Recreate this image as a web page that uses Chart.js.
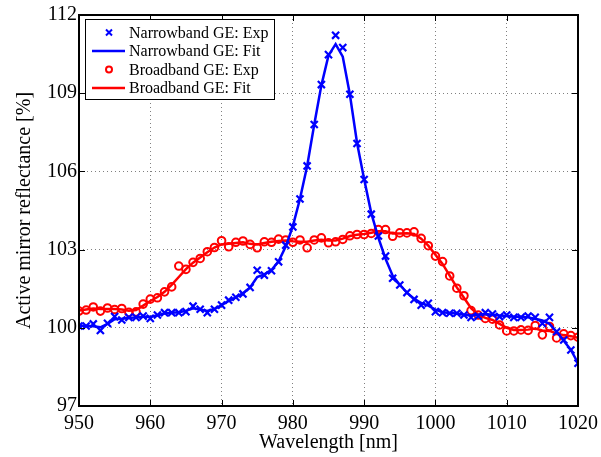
<!DOCTYPE html>
<html>
<head>
<meta charset="utf-8">
<script src="https://cdn.jsdelivr.net/npm/chart.js@4.4.1/dist/chart.umd.min.js"></script>
<style>
  html, body { margin: 0; padding: 0; background: #fff; }
  canvas { display: block; }
</style>
</head>
<body>
<canvas id="myChart" width="601" height="457"></canvas>
<script>
// wavelength grid (nm), 1 nm steps
const wavelength = [
  950, 951, 952, 953, 954, 955, 956, 957, 958, 959,
  960, 961, 962, 963, 964, 965, 966, 967, 968, 969,
  970, 971, 972, 973, 974, 975, 976, 977, 978, 979,
  980, 981, 982, 983, 984, 985, 986, 987, 988, 989,
  990, 991, 992, 993, 994, 995, 996, 997, 998, 999,
  1000, 1001, 1002, 1003, 1004, 1005, 1006, 1007, 1008, 1009,
  1010, 1011, 1012, 1013, 1014, 1015, 1016, 1017, 1018, 1019, 1020
];

const narrowExp = [
  100.07, 100.07, 100.15, 99.90, 100.17, 100.43, 100.30, 100.40, 100.40, 100.45,
  100.36, 100.49, 100.58, 100.58, 100.58, 100.62, 100.83, 100.71, 100.58, 100.71,
  100.87, 101.06, 101.17, 101.30, 101.55, 102.21, 102.02, 102.19, 102.53, 103.17,
  103.87, 104.94, 106.21, 107.80, 109.33, 110.48, 111.22, 110.75, 108.96, 107.07,
  105.69, 104.36, 103.52, 102.75, 101.90, 101.64, 101.35, 101.09, 100.87, 100.94,
  100.62, 100.58, 100.56, 100.56, 100.49, 100.40, 100.45, 100.58, 100.53, 100.43,
  100.49, 100.40, 100.40, 100.45, 100.40, 100.17, 100.40, 99.85, 99.53, 99.15, 98.64
];

const narrowFit = [
  100.08, 100.08, 100.06, 100.02, 100.15, 100.33, 100.35, 100.38, 100.40, 100.42,
  100.42, 100.48, 100.55, 100.58, 100.60, 100.65, 100.75, 100.70, 100.65, 100.72,
  100.87, 101.03, 101.17, 101.33, 101.55, 101.95, 102.05, 102.22, 102.55, 103.12,
  103.90, 104.95, 106.20, 107.80, 109.30, 110.45, 110.88, 110.40, 108.95, 107.10,
  105.70, 104.40, 103.45, 102.65, 102.00, 101.65, 101.35, 101.12, 100.95, 100.85,
  100.70, 100.60, 100.57, 100.55, 100.50, 100.47, 100.50, 100.53, 100.50, 100.47,
  100.45, 100.42, 100.42, 100.40, 100.35, 100.28, 100.15, 99.85, 99.50, 99.15, 98.65
];

const broadExp = [
  100.64, 100.68, 100.80, 100.64, 100.76, 100.70, 100.74, 100.59, 100.61, 100.91,
  101.10, 101.15, 101.38, 101.57, 102.37, 102.24, 102.51, 102.66, 102.92, 103.08,
  103.34, 103.11, 103.28, 103.33, 103.20, 103.07, 103.30, 103.28, 103.40, 103.37,
  103.28, 103.37, 103.07, 103.37, 103.45, 103.26, 103.30, 103.39, 103.53, 103.58,
  103.58, 103.62, 103.77, 103.77, 103.51, 103.64, 103.64, 103.68, 103.43, 103.15,
  102.75, 102.54, 101.99, 101.52, 101.23, 100.66, 100.49, 100.36, 100.33, 100.11,
  99.88, 99.88, 99.92, 99.90, 100.09, 99.73, 100.05, 99.61, 99.77, 99.70, 99.64
];

const broadFit = [
  100.66, 100.70, 100.74, 100.72, 100.72, 100.72, 100.70, 100.65, 100.68, 100.85,
  101.03, 101.18, 101.38, 101.65, 101.95, 102.25, 102.50, 102.70, 102.90, 103.08,
  103.20, 103.22, 103.25, 103.28, 103.22, 103.20, 103.25, 103.30, 103.33, 103.35,
  103.32, 103.30, 103.30, 103.35, 103.38, 103.35, 103.35, 103.42, 103.52, 103.57,
  103.60, 103.65, 103.70, 103.70, 103.62, 103.62, 103.63, 103.60, 103.42, 103.15,
  102.80, 102.45, 102.00, 101.55, 101.15, 100.75, 100.50, 100.38, 100.30, 100.15,
  100.00, 99.92, 99.92, 99.93, 99.97, 99.90, 99.88, 99.78, 99.72, 99.68, 99.62
];

const xTicks = [950, 960, 970, 980, 990, 1000, 1010, 1020];
const yTicks = [97, 100, 103, 106, 109, 112];

const BLUE = "#0000ff";
const RED = "#ff0000";
const SERIF = '"Liberation Serif", "DejaVu Serif", serif';

const toPoints = (ys) => ys.map((v, i) => ({ x: wavelength[i], y: v }));

// frame, inward ticks on all four sides, and the boxed legend
const framePlugin = {
  id: "frame",
  afterDatasetsDraw(chart) {
    const { ctx, chartArea, scales } = chart;
    const { left, right, top, bottom } = chartArea;
    ctx.save();
    ctx.strokeStyle = "#000";
    ctx.lineWidth = 1;
    ctx.beginPath();
    xTicks.forEach((v) => {
      const px = Math.round(scales.x.getPixelForValue(v)) + 0.5;
      ctx.moveTo(px, bottom); ctx.lineTo(px, bottom - 6);
      ctx.moveTo(px, top); ctx.lineTo(px, top + 6);
    });
    yTicks.forEach((v) => {
      const py = Math.round(scales.y.getPixelForValue(v)) + 0.5;
      ctx.moveTo(left, py); ctx.lineTo(left + 6, py);
      ctx.moveTo(right, py); ctx.lineTo(right - 6, py);
    });
    ctx.stroke();
    ctx.lineWidth = 2;
    ctx.strokeRect(left, top, right - left, bottom - top);

    // legend
    const lx = 85, ly = 19, lw = 189, lh = 80;
    ctx.fillStyle = "#fff";
    ctx.fillRect(lx, ly, lw, lh);
    ctx.lineWidth = 1;
    ctx.strokeStyle = "#000";
    ctx.strokeRect(lx + 0.5, ly + 0.5, lw, lh);
    ctx.font = "16px " + SERIF;
    ctx.textBaseline = "middle";
    ctx.textAlign = "left";
    chart.data.datasets.forEach((ds, i) => {
      const cy = ly + 13.5 + i * 18.5;
      ctx.strokeStyle = ds.borderColor;
      if (ds.showLine === false) {
        ctx.lineWidth = 2;
        ctx.beginPath();
        if (ds.pointStyle === "crossRot") {
          const r = 3;
          ctx.moveTo(109 - r, cy - r); ctx.lineTo(109 + r, cy + r);
          ctx.moveTo(109 + r, cy - r); ctx.lineTo(109 - r, cy + r);
        } else {
          ctx.arc(109, cy, 3, 0, Math.PI * 2);
        }
        ctx.stroke();
      } else {
        ctx.lineWidth = 2.5;
        ctx.beginPath();
        ctx.moveTo(92, cy); ctx.lineTo(125, cy);
        ctx.stroke();
      }
      ctx.fillStyle = "#000";
      ctx.fillText(ds.label, 129, cy + 1);
    });
    ctx.restore();
  },
};

const ctx = document.getElementById("myChart").getContext("2d");
const myChart = new Chart(ctx, {
  type: "scatter",
  data: {
    datasets: [
      {
        label: "Narrowband GE: Exp",
        data: toPoints(narrowExp),
        showLine: false,
        pointStyle: "crossRot",
        pointRadius: 5,
        pointBorderWidth: 2.2,
        borderColor: BLUE,
        backgroundColor: BLUE,
      },
      {
        label: "Narrowband GE: Fit",
        data: toPoints(narrowFit),
        showLine: true,
        pointRadius: 0,
        borderWidth: 2.5,
        borderColor: BLUE,
        backgroundColor: BLUE,
      },
      {
        label: "Broadband GE: Exp",
        data: toPoints(broadExp),
        showLine: false,
        pointStyle: "circle",
        pointRadius: 3.8,
        pointBorderWidth: 2,
        borderColor: RED,
        backgroundColor: "rgba(0,0,0,0)",
      },
      {
        label: "Broadband GE: Fit",
        data: toPoints(broadFit),
        showLine: true,
        pointRadius: 0,
        borderWidth: 2.5,
        borderColor: RED,
        backgroundColor: RED,
      },
    ],
  },
  options: {
    responsive: false,
    devicePixelRatio: 1,
    animation: false,
    layout: { padding: { left: 0, right: 23, top: 15, bottom: 0 } },
    plugins: {
      legend: { display: false },
      tooltip: { enabled: false },
    },
    scales: {
      x: {
        type: "linear",
        min: 950,
        max: 1020,
        afterFit: (scale) => {
          scale.height = 51;
          scale.paddingLeft = 0;
          scale.paddingRight = 0;
        },
        afterBuildTicks: (scale) => { scale.ticks = xTicks.map((v) => ({ value: v })); },
        ticks: {
          color: "#000",
          padding: 6,
          maxRotation: 0,
          font: { family: SERIF, size: 20 },
          callback: (value) => String(value),
        },
        grid: { color: "#808080", lineWidth: 1, drawTicks: false },
        border: { display: false, dash: [1, 3] },
        title: {
          display: true,
          text: "Wavelength [nm]",
          color: "#000",
          font: { family: SERIF, size: 20 },
          padding: { top: 0, bottom: 2 },
        },
      },
      y: {
        type: "linear",
        min: 97,
        max: 112,
        afterFit: (scale) => {
          scale.width = 79;
          scale.paddingTop = 0;
          scale.paddingBottom = 0;
        },
        afterBuildTicks: (scale) => { scale.ticks = yTicks.map((v) => ({ value: v })); },
        ticks: {
          color: "#000",
          padding: 2,
          font: { family: SERIF, size: 20 },
          callback: (value) => String(value),
        },
        grid: { color: "#808080", lineWidth: 1, drawTicks: false },
        border: { display: false, dash: [1, 3] },
        title: {
          display: true,
          text: "Active mirror reflectance [%]",
          color: "#000",
          font: { family: SERIF, size: 20 },
          padding: { top: 13, bottom: 0 },
        },
      },
    },
  },
  plugins: [framePlugin],
});
</script>
</body>
</html>
